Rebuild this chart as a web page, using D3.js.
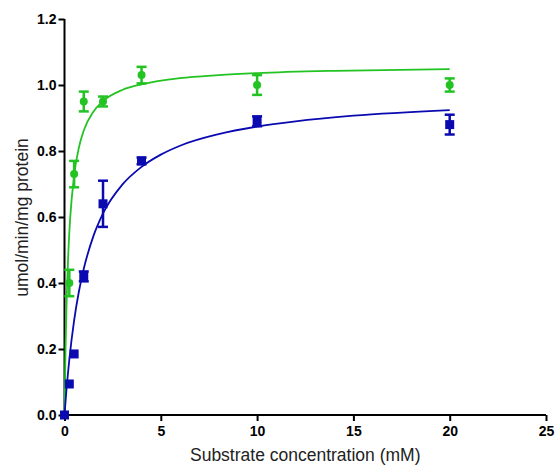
<!DOCTYPE html>
<html>
<head>
<meta charset="utf-8">
<script src="https://cdn.jsdelivr.net/npm/d3@7"></script>
<style>
  html, body { margin: 0; padding: 0; background: #fff; }
  svg { display: block; }
  .tick text { font-family: "Liberation Sans", Arial, sans-serif; font-weight: bold; font-size: 14px; }
</style>
</head>
<body>
<svg id="chart" width="555" height="466"></svg>
<script>
// Measured rates (mean ± error) at each substrate concentration
const greenX   = [0, 0.25, 0.5, 1, 2, 4, 10, 20];
const greenY   = [0, 0.40, 0.73, 0.95, 0.95, 1.03, 1.00, 1.00];
const greenErr = [0, 0.04, 0.04, 0.03, 0.015, 0.025, 0.03, 0.02];

const blueX   = [0, 0.25, 0.5, 1, 2, 4, 10, 20];
const blueY   = [0, 0.094, 0.185, 0.42, 0.64, 0.77, 0.89, 0.88];
const blueErr = [0, 0, 0, 0.015, 0.07, 0.01, 0.015, 0.03];

// Fitted saturation curves
const greenFitX = [0, 0.05, 0.1, 0.2, 0.3, 0.5, 0.75, 1, 1.5, 2, 3, 4, 6, 8, 10, 14, 20];
const greenFitY = [0, 0.189, 0.321, 0.493, 0.600, 0.726, 0.811, 0.862, 0.919, 0.951, 0.985, 1.002, 1.021, 1.030, 1.036, 1.043, 1.048];
const blueFitX = [0, 0.1, 0.25, 0.5, 0.75, 1, 1.5, 2, 3, 4, 5, 6, 8, 10, 12, 15, 20];
const blueFitY = [0, 0.075, 0.168, 0.287, 0.375, 0.443, 0.542, 0.611, 0.698, 0.752, 0.789, 0.816, 0.851, 0.874, 0.890, 0.907, 0.924];

const xTicks = [0, 5, 10, 15, 20, 25];
const yTicks = [0, 0.2, 0.4, 0.6, 0.8, 1.0, 1.2];

const GREEN = "#22c322";
const BLUE = "#0a0ab0";

const svg = d3.select("#chart");
const x = d3.scaleLinear().domain([0, 25]).range([64.5, 546]);
const y = d3.scaleLinear().domain([0, 1.2]).range([415, 19]);

// Axes
const xAxis = svg.append("g")
  .attr("transform", `translate(0,${y(0)})`)
  .call(d3.axisBottom(x).tickValues(xTicks).tickFormat(d3.format("d")).tickSize(6).tickPadding(5));
const yAxis = svg.append("g")
  .attr("transform", `translate(${x(0)},0)`)
  .call(d3.axisLeft(y).tickValues(yTicks).tickFormat(d3.format(".1f")).tickSize(6).tickPadding(2));
[xAxis, yAxis].forEach(g => {
  g.select(".domain").attr("stroke", "#000").attr("stroke-width", 2);
  g.selectAll(".tick line").attr("stroke", "#000").attr("stroke-width", 2);
  g.selectAll(".tick text").attr("fill", "#000");
});
// plain axis lines without end stubs
xAxis.select(".domain").attr("d", `M${x(0)},0H${x(25)}`);
yAxis.select(".domain").attr("d", `M0,${y(1.2)}V${y(0)}`);

// Axis titles
svg.append("text")
  .attr("x", (x(0) + x(25)) / 2).attr("y", 461)
  .attr("text-anchor", "middle")
  .attr("font-family", "Liberation Sans, Arial, sans-serif").attr("font-size", 17.5)
  .attr("fill", "#222")
  .text("Substrate concentration (mM)");
svg.append("text")
  .attr("transform", `translate(27.5,217.5) rotate(-90)`)
  .attr("text-anchor", "middle")
  .attr("font-family", "Liberation Sans, Arial, sans-serif").attr("font-size", 17.5)
  .attr("fill", "#222")
  .text("umol/min/mg protein");

const line = d3.line().x(d => x(d[0])).y(d => y(d[1])).curve(d3.curveMonotoneX);

function drawSeries(fx, fy, px, py, pe, color, shape) {
  svg.append("path")
    .datum(fx.map((v, i) => [v, fy[i]]))
    .attr("fill", "none").attr("stroke", color).attr("stroke-width", 1.8)
    .attr("d", line);

  const pts = px.map((v, i) => ({ x: v, y: py[i], e: pe[i] }));
  const g = svg.append("g");
  const bars = pts.filter(d => d.e > 0);
  g.selectAll("line.eb").data(bars).join("line")
    .attr("x1", d => x(d.x)).attr("x2", d => x(d.x))
    .attr("y1", d => y(d.y - d.e)).attr("y2", d => y(d.y + d.e))
    .attr("stroke", color).attr("stroke-width", 2.5);
  [-1, 1].forEach(s => {
    g.selectAll(null).data(bars).join("line")
      .attr("x1", d => x(d.x) - 5).attr("x2", d => x(d.x) + 5)
      .attr("y1", d => y(d.y + s * d.e)).attr("y2", d => y(d.y + s * d.e))
      .attr("stroke", color).attr("stroke-width", 2.5);
  });
  if (shape === "circle") {
    g.selectAll("circle").data(pts).join("circle")
      .attr("cx", d => x(d.x)).attr("cy", d => y(d.y)).attr("r", 4)
      .attr("fill", color);
  } else {
    g.selectAll("rect").data(pts).join("rect")
      .attr("x", d => x(d.x) - 4.5).attr("y", d => y(d.y) - 4.5)
      .attr("width", 9).attr("height", 9)
      .attr("fill", color);
  }
}

drawSeries(greenFitX, greenFitY, greenX, greenY, greenErr, GREEN, "circle");
drawSeries(blueFitX, blueFitY, blueX, blueY, blueErr, BLUE, "square");
</script>
</body>
</html>
